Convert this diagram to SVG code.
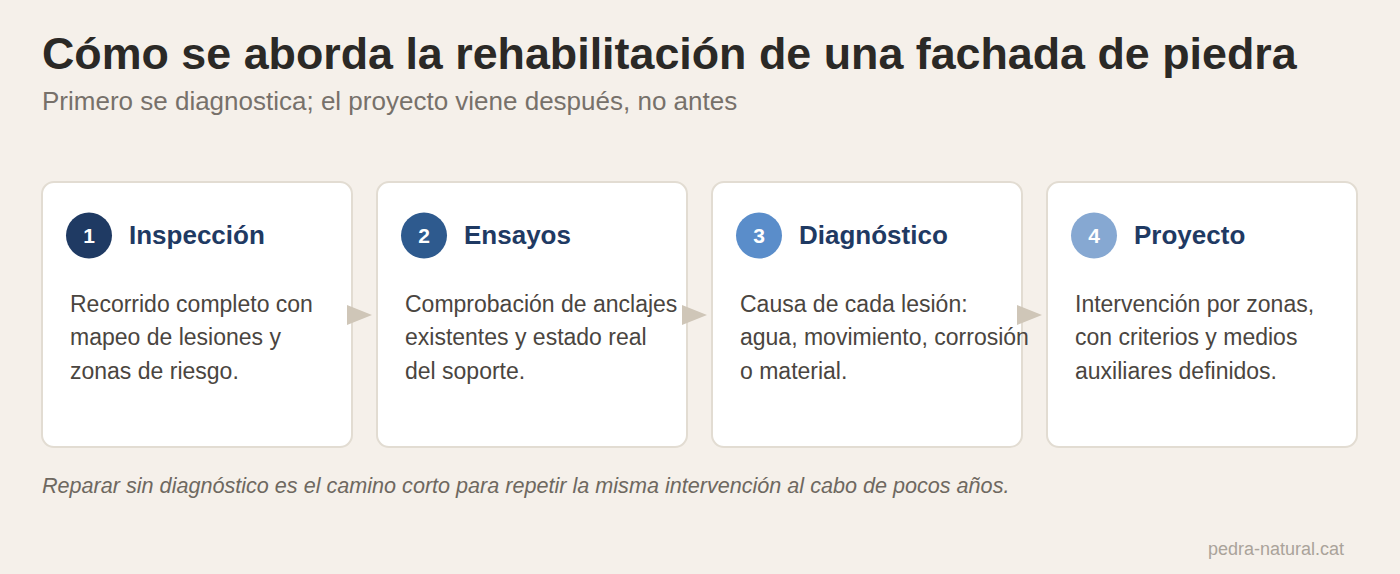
<svg xmlns="http://www.w3.org/2000/svg" width="1400" height="574" viewBox="0 0 1400 574">
<defs>
<style>
.bg{fill:#f5f0ea}
.card{fill:#ffffff;stroke:#e2dcd2;stroke-width:2}
.num{font-family:"Liberation Sans",Arial,sans-serif;font-size:21px;font-weight:bold;fill:#ffffff;text-anchor:middle}
.ttl{font-family:"Liberation Sans",Arial,sans-serif;font-size:26px;font-weight:bold;fill:#1f3a63}
.body{font-family:"Liberation Sans",Arial,sans-serif;font-size:23px;fill:#4a4540}
.arrow{fill:#cfc6b8}
</style>
</defs>
<rect class="bg" x="0" y="0" width="1400" height="574"/>
<text x="42" y="69" font-family="'Liberation Sans',Arial,sans-serif" font-size="44.8" font-weight="bold" fill="#2b2926">Cómo se aborda la rehabilitación de una fachada de piedra</text>
<text x="42" y="110" font-family="'Liberation Sans',Arial,sans-serif" font-size="26" fill="#77716a">Primero se diagnostica; el proyecto viene después, no antes</text>
<g id="node1">
<rect class="card" x="42" y="182" width="310" height="265" rx="12"/>
<circle cx="89" cy="235.5" r="23" fill="#1f3a63"/>
<text class="num" x="89" y="243">1</text>
<text class="ttl" x="129" y="244">Inspección</text>
<text class="body" x="70" y="311.5">Recorrido completo con</text>
<text class="body" x="70" y="345">mapeo de lesiones y</text>
<text class="body" x="70" y="378.5">zonas de riesgo.</text>
</g>
<g id="node2">
<rect class="card" x="377" y="182" width="310" height="265" rx="12"/>
<circle cx="424" cy="235.5" r="23" fill="#2e5a8e"/>
<text class="num" x="424" y="243">2</text>
<text class="ttl" x="464" y="244">Ensayos</text>
<text class="body" x="405" y="311.5">Comprobación de anclajes</text>
<text class="body" x="405" y="345">existentes y estado real</text>
<text class="body" x="405" y="378.5">del soporte.</text>
</g>
<g id="node3">
<rect class="card" x="712" y="182" width="310" height="265" rx="12"/>
<circle cx="759" cy="235.5" r="23" fill="#5a8dca"/>
<text class="num" x="759" y="243">3</text>
<text class="ttl" x="799" y="244">Diagnóstico</text>
<text class="body" x="740" y="311.5">Causa de cada lesión:</text>
<text class="body" x="740" y="345">agua, movimiento, corrosión</text>
<text class="body" x="740" y="378.5">o material.</text>
</g>
<g id="node4">
<rect class="card" x="1047" y="182" width="310" height="265" rx="12"/>
<circle cx="1094" cy="235.5" r="23" fill="#86a8d2"/>
<text class="num" x="1094" y="243">4</text>
<text class="ttl" x="1134" y="244">Proyecto</text>
<text class="body" x="1075" y="311.5">Intervención por zonas,</text>
<text class="body" x="1075" y="345">con criterios y medios</text>
<text class="body" x="1075" y="378.5">auxiliares definidos.</text>
</g>
<g id="connectors">
<polygon class="arrow" points="347,305 372,315 347,325"/>
<polygon class="arrow" points="682,305 707,315 682,325"/>
<polygon class="arrow" points="1017,305 1042,315 1017,325"/>
</g>
<text x="42" y="493" font-family="'Liberation Sans',Arial,sans-serif" font-size="21.6" font-style="italic" fill="#6e6860">Reparar sin diagnóstico es el camino corto para repetir la misma intervención al cabo de pocos años.</text>
<text x="1344" y="555" font-family="'Liberation Sans',Arial,sans-serif" font-size="18" fill="#aaa39a" text-anchor="end">pedra-natural.cat</text>
</svg>
